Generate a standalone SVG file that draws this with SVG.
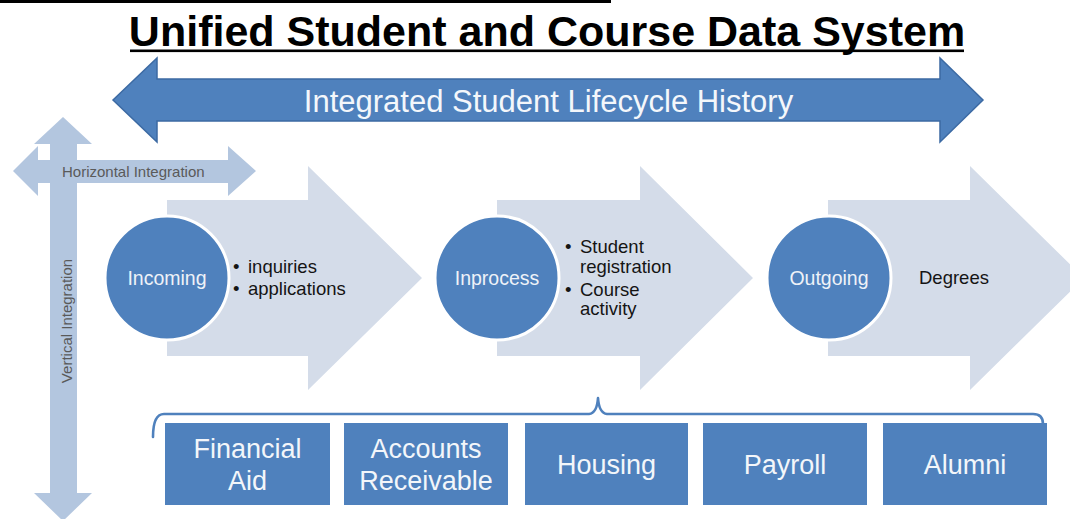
<svg xmlns="http://www.w3.org/2000/svg" width="1070" height="519" viewBox="0 0 1070 519">
<style>
text{font-family:"Liberation Sans",Arial,Helvetica,sans-serif}
.title{font-size:43px;font-weight:bold;fill:#000}
.big{font-size:31px;fill:#f4f7fb}
.axis{font-size:15px;fill:#5a5a5a}
.circ{fill:#4f81bd;stroke:#fff;stroke-width:3}
.ctext{font-size:19.5px;fill:#eef2f8;text-anchor:middle}
.bul{font-size:18.5px;fill:#141414}
.chev{fill:#d4dce9}
.light{fill:#b3c6df}
.box{fill:#4f81bd}
.btext{font-size:27px;fill:#f3f6fa;text-anchor:middle}
.brace{fill:none;stroke:#4f81bd;stroke-width:2.6;stroke-linejoin:round;stroke-linecap:round}
</style>
<rect width="1070" height="519" fill="#fff"/>
<rect x="0" y="0" width="611" height="3" fill="#000"/>

<g id="title">
<text class="title" x="547" y="46" text-anchor="middle">Unified Student and Course Data System</text>
<rect x="130" y="49.5" width="834" height="2.6" fill="#000"/>
</g>

<g id="lifecycle-arrow">
<path d="M113,100 L157,58 L157,79 L940,79 L940,58 L983,100 L940,142 L940,121 L157,121 L157,142 Z" fill="#4f81bd" stroke="#3c6aa3" stroke-width="1.5"/>
<text class="big" x="548.5" y="111.5" text-anchor="middle">Integrated Student Lifecycle History</text>
</g>

<g id="vertical-integration">
<path class="light" d="M63,117 L92,144 L77,144 L77,493 L92,493 L63,521 L34,493 L50,493 L50,144 L34,144 Z"/>
<text class="axis" transform="translate(72,321) rotate(-90)" text-anchor="middle">Vertical Integration</text>
</g>

<g id="horizontal-integration">
<path class="light" d="M13,171 L38,146 L38,160 L228,160 L228,146 L256,171 L228,196 L228,183 L38,183 L38,196 Z"/>
<text class="axis" x="62" y="177">Horizontal Integration</text>
</g>

<g id="stage-incoming">
<path class="chev" d="M167,200 L308,200 L308,166 L422,278 L308,390 L308,356 L167,356 Z"/>
<circle class="circ" cx="167" cy="278" r="62"/>
<text class="ctext" x="167" y="285">Incoming</text>
<text class="bul"><tspan x="233" y="273">•</tspan><tspan x="248" y="273">inquiries</tspan><tspan x="233" y="295">•</tspan><tspan x="248" y="295">applications</tspan></text>
</g>

<g id="stage-inprocess">
<path class="chev" d="M497,200 L640,200 L640,166 L753,278 L640,390 L640,356 L497,356 Z"/>
<circle class="circ" cx="497" cy="278" r="62"/>
<text class="ctext" x="497" y="285">Inprocess</text>
<text class="bul"><tspan x="565" y="253">•</tspan><tspan x="580" y="253">Student</tspan><tspan x="580" y="273">registration</tspan><tspan x="565" y="296">•</tspan><tspan x="580" y="296">Course</tspan><tspan x="580" y="315">activity</tspan></text>
</g>

<g id="stage-outgoing">
<path class="chev" d="M828,200 L970,200 L970,166 L1084,278 L970,390 L970,356 L828,356 Z"/>
<circle class="circ" cx="829" cy="278" r="62"/>
<text class="ctext" x="829" y="285">Outgoing</text>
<text class="bul" x="919" y="284">Degrees</text>
</g>

<g id="connectors">
<path class="brace" d="M153,437 Q153,414 164,414 L589,414 Q597,413 598,398 Q599,413 607,414 L1033,414 Q1043,414 1043,424"/>
</g>

<g id="box-financial-aid">
<rect class="box" x="165" y="423" width="165" height="82"/>
<text class="btext" x="247.5" y="458">Financial</text>
<text class="btext" x="247.5" y="490">Aid</text>
</g>
<g id="box-accounts-receivable">
<rect class="box" x="344" y="423" width="164" height="82"/>
<text class="btext" x="426" y="458">Accounts</text>
<text class="btext" x="426" y="490">Receivable</text>
</g>
<g id="box-housing">
<rect class="box" x="525" y="423" width="163" height="82"/>
<text class="btext" x="606.5" y="474">Housing</text>
</g>
<g id="box-payroll">
<rect class="box" x="703" y="423" width="164" height="82"/>
<text class="btext" x="785" y="474">Payroll</text>
</g>
<g id="box-alumni">
<rect class="box" x="883" y="423" width="164" height="82"/>
<text class="btext" x="965" y="474">Alumni</text>
</g>
</svg>
